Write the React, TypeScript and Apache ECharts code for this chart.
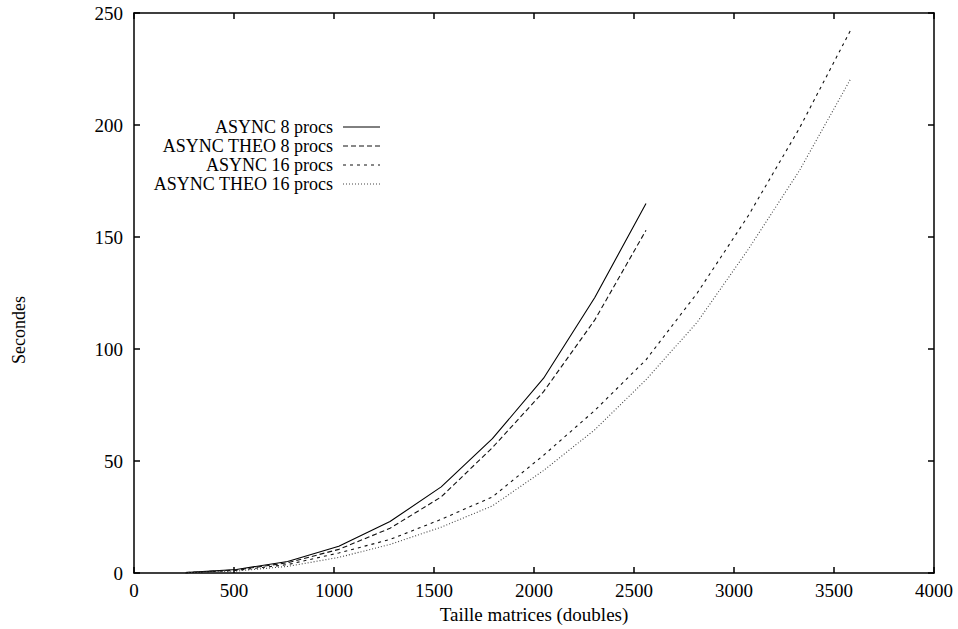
import React, { useEffect, useRef } from "react";
import * as echarts from "echarts";

const xValues8 = [256, 512, 768, 1024, 1280, 1536, 1792, 2048, 2304, 2560];
const async8 = [0.2, 1.6, 5.2, 12, 23, 38.5, 60, 87, 123, 165];
const theo8 = [0.2, 1.4, 4.6, 10.6, 20, 34, 56, 81, 113, 153];
const xValues16 = [256, 512, 768, 1024, 1280, 1536, 1792, 2048, 2304, 2560, 2816, 3072, 3328, 3584];
const async16 = [0.15, 1.2, 3.8, 9, 15, 24, 34, 52.6, 72.6, 95.2, 125, 159.6, 198.7, 242.5];
const theo16 = [0.1, 0.9, 3, 7, 12.8, 20.5, 30, 45.8, 64, 86.3, 112, 144.6, 179.8, 220.7];

const seriesNames = ["ASYNC 8 procs", "ASYNC THEO 8 procs", "ASYNC 16 procs", "ASYNC THEO 16 procs"];
const dashPatterns: (string | number[])[] = ["solid", [5, 3], [3, 4], [1, 2]];
const lineColors = ["#000", "#111", "#111", "#444"];

const FONT = "Liberation Serif";

const zip = (xs: number[], ys: number[]) => xs.map((x, i) => [x, ys[i]]);

export default function App() {
  const ref = useRef<HTMLDivElement>(null);
  useEffect(() => {
    if (!ref.current) return;
    const chart = echarts.init(ref.current, null, { renderer: "svg" });
    const datasets = [zip(xValues8, async8), zip(xValues8, theo8), zip(xValues16, async16), zip(xValues16, theo16)];
    const legendTop = 127;
    const legendStep = 19;
    const legendGraphics: any[] = [];
    seriesNames.forEach((name, i) => {
      const y = legendTop + i * legendStep;
      legendGraphics.push({
        type: "text",
        x: 333,
        y,
        style: {
          text: name,
          font: `18px "${FONT}"`,
          lineHeight: 18,
          fill: "#000",
          textAlign: "right",
          textVerticalAlign: "middle",
        },
      });
      legendGraphics.push({
        type: "line",
        shape: { x1: 343, y1: y, x2: 380, y2: y },
        style: { stroke: lineColors[i], lineWidth: 1, lineDash: dashPatterns[i] === "solid" ? null : dashPatterns[i] },
      });
    });
    const axisCommon = {
      type: "value" as const,
      axisLine: { show: true, onZero: false, lineStyle: { color: "#000", width: 1.5 } },
      axisTick: { show: true, inside: true, length: 6, lineStyle: { color: "#000", width: 1.5 } },
      splitLine: { show: false },
    };
    const labelStyle = {
      color: "#000",
      fontFamily: FONT,
      fontSize: 19,
      formatter: (v: number) => String(v),
    };
    chart.setOption({
      animation: false,
      backgroundColor: "#fff",
      grid: { left: 134, top: 13, right: 24, bottom: 52, containLabel: false },
      xAxis: [
        {
          ...axisCommon,
          position: "bottom",
          min: 0,
          max: 4000,
          interval: 500,
          axisLabel: { ...labelStyle, margin: 8 },
          name: "Taille matrices (doubles)",
          nameLocation: "middle",
          nameGap: 27,
          nameTextStyle: { color: "#000", fontFamily: FONT, fontSize: 19 },
        },
        {
          ...axisCommon,
          position: "top",
          min: 0,
          max: 4000,
          interval: 500,
          axisLabel: { show: false },
        },
      ],
      yAxis: [
        {
          ...axisCommon,
          position: "left",
          min: 0,
          max: 250,
          interval: 50,
          axisLabel: { ...labelStyle, margin: 11 },
        },
        {
          ...axisCommon,
          position: "right",
          min: 0,
          max: 250,
          interval: 50,
          axisLabel: { show: false },
        },
      ],
      graphic: [
        {
          type: "text",
          x: 19,
          y: 330,
          rotation: Math.PI / 2,
          style: { text: "Secondes", font: `18px "${FONT}"`, fill: "#000", textAlign: "center", textVerticalAlign: "middle" },
        },
        ...legendGraphics,
      ],
      series: seriesNames.map((name, i) => ({
        name,
        type: "line",
        xAxisIndex: 0,
        yAxisIndex: 0,
        data: datasets[i],
        showSymbol: false,
        symbol: "none",
        lineStyle: { color: lineColors[i], width: 1.1, type: dashPatterns[i] },
        silent: true,
      })),
    });
    return () => chart.dispose();
  }, []);
  return (
    <div
      ref={ref}
      style={{ position: "absolute", left: 0, top: 0, width: 958, height: 629, background: "#fff" }}
    />
  );
}
